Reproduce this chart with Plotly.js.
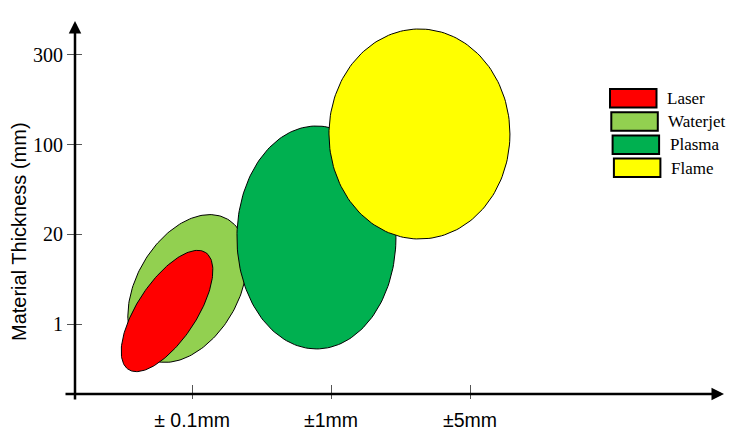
<!DOCTYPE html>
<html><head><meta charset="utf-8">
<script src="https://cdn.plot.ly/plotly-3.0.1.min.js"></script>
<style>html,body{margin:0;padding:0;background:#fff}#chart{width:748px;height:441px}</style>
</head><body><div id="chart"></div>
<script>
// ---- data ----
const processes = ["Laser", "Waterjet", "Plasma", "Flame"];
const centerTolerance = [0.82, 0.967, 1.895, 2.636];   // x position (tolerance scale)
const centerThickness = [1.145, 1.396, 1.965, 3.119];  // y position (thickness scale)
const spreadTolerance = [0.504, 0.576, 0.572, 0.651];  // semi-axis along tolerance
const spreadThickness = [0.329, 0.569, 1.243, 1.171];  // semi-axis along thickness
const tiltDeg = [56.5, 60, 0, 0];
const xTickVals = [1, 2, 3];
const xTickText = ["± 0.1mm", "±1mm", "±5mm"];
const yTickVals = [1, 2, 3, 4];
const yTickText = ["1", "20", "100", "300"];
const yTitle = "Material Thickness (mm)";

// ---- styles ----
const colors = {Laser: "#FF0000", Waterjet: "#92D050", Plasma: "#00B050", Flame: "#FFFF00"};
const drawOrder = [1, 0, 2, 3];
const W = 748, H = 441;
const M = {l: 75, r: 24, t: 21, b: 47};
const xRange = [0.158, 4.827];
const yRange = [0.2194, 4.379];
const pw = W - M.l - M.r, ph = H - M.t - M.b;
const kx = pw / (xRange[1] - xRange[0]);
const ky = ph / (yRange[1] - yRange[0]);

function ellipse(i) {
  const A = spreadTolerance[i] * kx, B = spreadThickness[i] * ky;
  const th = tiltDeg[i] * Math.PI / 180;
  const xs = [], ys = [];
  for (let s = 0; s <= 180; s++) {
    const t = s / 180 * 2 * Math.PI;
    const dx = A * Math.cos(t) * Math.cos(th) - B * Math.sin(t) * Math.sin(th);
    const dy = A * Math.cos(t) * Math.sin(th) + B * Math.sin(t) * Math.cos(th);
    xs.push(centerTolerance[i] + dx / kx);
    ys.push(centerThickness[i] + dy / ky);
  }
  return {xs, ys};
}

const traces = drawOrder.map(i => {
  const e = ellipse(i);
  return {
    type: "scatter", mode: "lines", x: e.xs, y: e.ys, name: processes[i],
    fill: "toself", fillcolor: colors[processes[i]],
    line: {color: "#000", width: 1}, hoverinfo: "skip", showlegend: false
  };
});
// invisible trace to activate the overlay axes (extra tick halves)
traces.push({type: "scatter", mode: "markers", x: [xRange[0]], y: [yRange[0]],
  xaxis: "x2", yaxis: "y2", marker: {opacity: 0}, hoverinfo: "skip", showlegend: false});

// pixel -> paper helpers (for decoration)
const px = x => (x - M.l) / pw;
const py = y => (H - M.b - y) / ph;

const shapes = [], annotations = [];
processes.forEach((p, i) => {
  const x0 = 610 + i * 1.3, y0 = 89 + i * 23.2;
  shapes.push({type: "rect", xref: "paper", yref: "paper",
    x0: px(x0), x1: px(x0 + 46.5), y0: py(y0), y1: py(y0 + 18.5),
    fillcolor: colors[p], line: {color: "#000", width: 2}});
  annotations.push({xref: "paper", yref: "paper", x: px(x0 + 55), y: py(y0 + 9.5),
    xanchor: "left", yanchor: "middle", text: p, showarrow: false,
    font: {family: "Liberation Serif", size: 17, color: "#000"}});
});
// axis arrows
annotations.push({xref: "paper", yref: "paper", x: 0, y: py(21), ax: 0, ay: 380,
  text: "", showarrow: true, arrowhead: 2, arrowsize: 1, arrowwidth: 2.5, arrowcolor: "#000"});
annotations.push({xref: "paper", yref: "paper", x: px(724), y: 0, ax: -660, ay: 0,
  text: "", showarrow: true, arrowhead: 2, arrowsize: 1, arrowwidth: 2.5, arrowcolor: "#000"});
// y axis title
annotations.push({xref: "paper", yref: "paper", x: px(19), y: py(232), xanchor: "center", yanchor: "middle",
  text: yTitle, textangle: -90, showarrow: false,
  font: {family: "Liberation Sans", size: 20, color: "#000"}});

const layout = {
  width: W, height: H, margin: M,
  paper_bgcolor: "#fff", plot_bgcolor: "rgba(0,0,0,0)",
  showlegend: false,
  xaxis: {range: xRange, tickvals: xTickVals, ticktext: xTickText,
    ticks: "inside", ticklen: 9, tickwidth: 1, tickcolor: "#555",
    showline: false, showgrid: false, zeroline: false, ticklabelstandoff: 12,
    tickfont: {family: "Liberation Sans", size: 19.5, color: "#000"}},
  xaxis2: {overlaying: "x", range: xRange, tickvals: xTickVals, showticklabels: false,
    ticks: "outside", ticklen: 4, tickwidth: 1, tickcolor: "#555",
    showline: false, showgrid: false, zeroline: false},
  yaxis: {range: yRange, tickvals: yTickVals, ticktext: yTickText,
    ticks: "outside", ticklen: 7, tickwidth: 1, tickcolor: "#555",
    showline: false, showgrid: false, zeroline: false,
    tickfont: {family: "Liberation Serif", size: 20, color: "#000"}},
  yaxis2: {overlaying: "y", range: yRange, tickvals: yTickVals, showticklabels: false,
    ticks: "inside", ticklen: 7, tickwidth: 1, tickcolor: "#555",
    showline: false, showgrid: false, zeroline: false},
  shapes, annotations
};
Plotly.newPlot("chart", traces, layout, {staticPlot: true, displayModeBar: false});
</script></body></html>
